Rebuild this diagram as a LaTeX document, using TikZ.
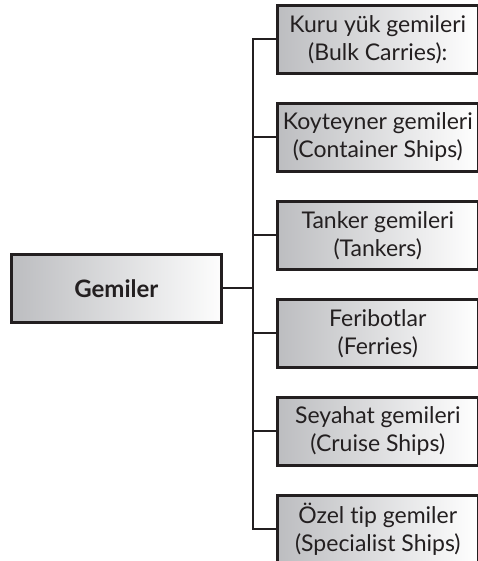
\documentclass[tikz,border=0pt]{standalone}
\usepackage{fontspec}
\setmainfont{Lato}[Ligatures=NoCommon]
\definecolor{txt}{HTML}{231F20}
\definecolor{lgray}{HTML}{BCBDC0}
\begin{document}
\begin{tikzpicture}[x=1pt,y=-1pt,
  catbox/.style={draw=txt,line width=2.6pt,left color=lgray,right color=white,
    minimum width=201pt,minimum height=68pt,anchor=north west,inner sep=0pt,
    align=center,text=txt,font=\fontsize{23}{28}\selectfont},
  mainbox/.style={draw=txt,line width=2.6pt,left color=lgray,right color=white!97!lgray,
    minimum width=210pt,minimum height=68pt,anchor=north west,inner sep=0pt,
    text=txt,font=\fontsize{24}{28}\selectfont\bfseries},
  conn/.style={draw=txt,line width=2pt}]
\useasboundingbox (0,0) rectangle (478,561);
\node[mainbox] (m) at (10,253) {Gemiler};
\node[catbox] (b1) at (276,4) {Kuru yük gemileri\\(Bulk Carries):};
\node[catbox] (b2) at (276,102) {Koyteyner gemileri\\(Container Ships)};
\node[catbox] (b3) at (276,200) {Tanker gemileri\\(Tankers)};
\node[catbox] (b4) at (276,298) {Feribotlar\\(Ferries)};
\node[catbox] (b5) at (276,396) {Seyahat gemileri\\(Cruise Ships)};
\node[catbox] (b6) at (276,494) {Özel tip gemiler\\(Specialist Ships)};
\coordinate (s) at (253,0);
\draw[conn] (b1.west) -- (b1.west -| s) -- (b6.west -| s) -- (b6.west);
\foreach \b in {b2,b3,b4,b5} \draw[conn] (\b.west) -- (\b.west -| s);
\draw[conn] (m.east) -- (m.east -| s);
\end{tikzpicture}
\end{document}
